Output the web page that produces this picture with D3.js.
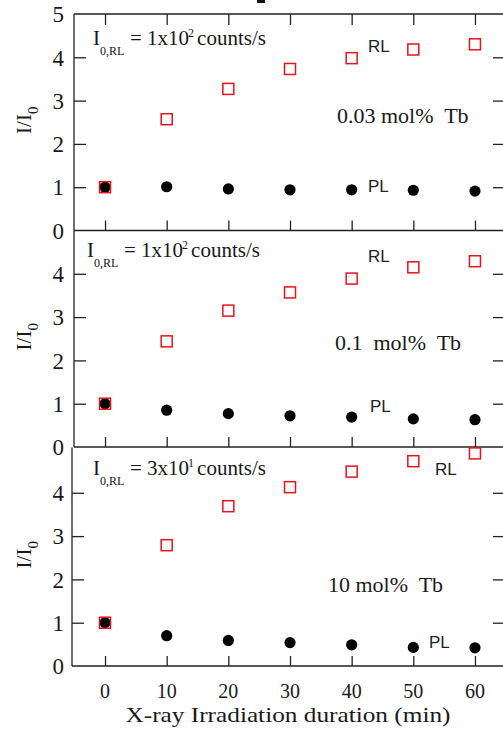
<!DOCTYPE html>
<html>
<head>
<meta charset="utf-8">
<script src="https://cdn.jsdelivr.net/npm/d3@7"></script>
<style>
  html, body { margin: 0; padding: 0; background: #fff; }
  svg { display: block; }
  .serif { font-family: "Liberation Serif", "Times New Roman", serif; fill: #1a1a1a; }
  .sans { font-family: "Liberation Sans", Arial, sans-serif; fill: #222; }
</style>
</head>
<body>
<svg id="chart" width="503" height="729"></svg>
<script>
// Irradiation times (min)
const times = [0, 10, 20, 30, 40, 50, 60];
const xTicks = [0, 10, 20, 30, 40, 50, 60];

// Normalised intensities I/I0 for each Tb concentration
const rl003 = [1.00, 2.57, 3.27, 3.73, 3.98, 4.18, 4.30];
const pl003 = [1.00, 1.01, 0.96, 0.94, 0.94, 0.93, 0.91];
const rl01  = [1.00, 2.44, 3.15, 3.57, 3.89, 4.15, 4.29];
const pl01  = [1.00, 0.85, 0.77, 0.72, 0.69, 0.65, 0.63];
const rl10  = [1.00, 2.79, 3.69, 4.13, 4.49, 4.73, 4.91];
const pl10  = [1.00, 0.70, 0.59, 0.54, 0.49, 0.43, 0.42];

// Panel labels
const concLabels = ["0.03 mol%\u00a0 Tb", "0.1\u00a0 mol%\u00a0 Tb", "10 mol%\u00a0 Tb"];
const i0Mantissa = ["1x10", "1x10", "3x10"];
const i0Exponent = ["2", "2", "1"];
const yTickSets = [[0, 1, 2, 3, 4, 5], [0, 1, 2, 3, 4], [0, 1, 2, 3, 4]];

const svg = d3.select("#chart");
const unit = 43.3;
const x = d3.scaleLinear().domain([-5, 65]).range([74.2, 505.8]);
const xRight = 506;

const panels = [
  { rl: rl003, pl: pl003, bottom: 230.5, top: 14, axisX: 74, topTicks: true,
    ann: { x: 93, base: 45 }, rlLab: [368, 52], plLab: [368, 191.5], conc: [337, 123] },
  { rl: rl01, pl: pl01, bottom: 447, top: 230.5, axisX: 74, topTicks: false,
    ann: { x: 87, base: 257 }, rlLab: [368, 262], plLab: [370, 411.5], conc: [335, 350] },
  { rl: rl10, pl: pl10, bottom: 666, top: 447.5, axisX: 72, topTicks: false,
    ann: { x: 93, base: 475 }, rlLab: [435, 475], plLab: [429, 648], conc: [328, 592] }
];

panels.forEach((p, i) => {
  const y = d3.scaleLinear().domain([0, 5]).range([p.bottom, p.bottom - 5 * unit]);
  const g = svg.append("g");

  // frame lines: left axis and bottom line
  g.append("line").attr("x1", p.axisX).attr("x2", p.axisX)
    .attr("y1", p.top).attr("y2", p.bottom)
    .attr("stroke", "#222").attr("stroke-width", 1.3);
  g.append("line").attr("x1", p.axisX).attr("x2", xRight)
    .attr("y1", p.bottom).attr("y2", p.bottom)
    .attr("stroke", "#222").attr("stroke-width", 1.3);
  if (i === 0) {
    g.append("line").attr("x1", p.axisX).attr("x2", xRight)
      .attr("y1", p.top).attr("y2", p.top)
      .attr("stroke", "#222").attr("stroke-width", 1.3);
  }

  // bottom x ticks pointing inward
  const xb = g.append("g").attr("transform", `translate(0,${p.bottom})`)
    .call(d3.axisTop(x).tickValues(xTicks).tickSize(10).tickFormat(""));
  xb.select(".domain").remove();
  xb.selectAll("line").attr("stroke", "#222").attr("stroke-width", 1.3);

  if (p.topTicks) {
    const xt = g.append("g").attr("transform", `translate(0,${p.top})`)
      .call(d3.axisBottom(x).tickValues(xTicks).tickSize(11).tickFormat(""));
    xt.select(".domain").remove();
    xt.selectAll("line").attr("stroke", "#222").attr("stroke-width", 1.3);
  }

  // left y ticks pointing inward
  const yl = g.append("g").attr("transform", `translate(${p.axisX},0)`)
    .call(d3.axisRight(y).tickValues([1, 2, 3, 4]).tickSize(12).tickFormat(""));
  yl.select(".domain").remove();
  yl.selectAll("line").attr("stroke", "#222").attr("stroke-width", 1.3);

  // right y ticks pointing inward
  const yr = g.append("g").attr("transform", `translate(${xRight},0)`)
    .call(d3.axisLeft(y).tickValues([1, 2, 3, 4]).tickSize(13).tickFormat(""));
  yr.select(".domain").remove();
  yr.selectAll("line").attr("stroke", "#222").attr("stroke-width", 1.3);

  // y tick labels
  g.selectAll("text.ytl").data(yTickSets[i]).enter().append("text")
    .attr("class", "serif ytl")
    .attr("x", 64).attr("y", d => y(d))
    .attr("dy", "0.36em")
    .attr("text-anchor", "end")
    .style("font-size", "23px")
    .text(d => d);

  // y axis title I/I0
  const cy = (p.top + p.bottom) / 2 - 2;
  const yt = g.append("text").attr("class", "serif")
    .attr("transform", `translate(31,${cy}) rotate(-90)`)
    .attr("text-anchor", "middle")
    .style("font-size", "21px");
  yt.append("tspan").text("I/I");
  yt.append("tspan").attr("dy", 7).style("font-size", "15px").text("0");

  // PL points (filled circles)
  g.selectAll("circle.pl").data(times).enter().append("circle")
    .attr("class", "pl")
    .attr("cx", (d) => x(d)).attr("cy", (d, k) => y(p.pl[k]))
    .attr("r", 5.6).attr("fill", "#000");

  // RL points (open red squares)
  const s = 11;
  g.selectAll("rect.rl").data(times).enter().append("rect")
    .attr("class", "rl")
    .attr("x", d => x(d) - s / 2).attr("y", (d, k) => y(p.rl[k]) - s / 2)
    .attr("width", s).attr("height", s)
    .attr("fill", "none").attr("stroke", "#e8141c").attr("stroke-width", 1.5);

  // I0,RL annotation
  const a = p.ann;
  const ann = g.append("text").attr("class", "serif")
    .attr("x", a.x).attr("y", a.base).style("font-size", "21px");
  ann.append("tspan").text("I");
  ann.append("tspan").attr("x", a.x + 7).attr("dy", 10)
    .style("font-size", "12px").text("0,RL");
  ann.append("tspan").attr("x", a.x + 37).attr("dy", -10).text("= " + i0Mantissa[i]);
  ann.append("tspan").attr("dy", -8).attr("dx", -1)
    .style("font-size", "12px").text(i0Exponent[i]);
  ann.append("tspan").attr("dy", 8).attr("dx", 3).text("counts/s");

  // series labels
  g.append("text").attr("class", "sans")
    .attr("x", p.rlLab[0]).attr("y", p.rlLab[1])
    .style("font-size", "17px").text("RL");
  g.append("text").attr("class", "sans")
    .attr("x", p.plLab[0]).attr("y", p.plLab[1])
    .style("font-size", "17px").text("PL");

  // concentration label
  g.append("text").attr("class", "serif")
    .attr("x", p.conc[0]).attr("y", p.conc[1])
    .style("font-size", "22px").text(concLabels[i]);
});

// x tick labels under the bottom panel
svg.selectAll("text.xtl").data(xTicks).enter().append("text")
  .attr("class", "serif xtl")
  .attr("x", d => x(d)).attr("y", 698)
  .attr("text-anchor", "middle")
  .style("font-size", "20px")
  .text(d => d);

// x axis title
svg.append("text").attr("class", "serif")
  .attr("x", 288).attr("y", 722)
  .attr("text-anchor", "middle")
  .attr("textLength", 325).attr("lengthAdjust", "spacingAndGlyphs")
  .style("font-size", "21px")
  .text("X-ray Irradiation duration (min)");

// clipped heading glyph at the top edge
svg.append("rect").attr("x", 257).attr("y", 0).attr("width", 8).attr("height", 3).attr("fill", "#111");
</script>
</body>
</html>
